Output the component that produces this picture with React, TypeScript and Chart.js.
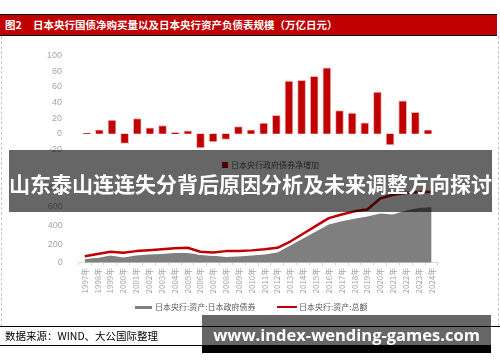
import React, { useEffect, useRef } from "react";
import { Chart, registerables } from "chart.js";

Chart.register(...registerables);

const years = [
  "1997年", "1998年", "1999年", "2000年", "2001年", "2002年", "2003年",
  "2004年", "2005年", "2006年", "2007年", "2008年", "2009年", "2010年",
  "2011年", "2012年", "2013年", "2014年", "2015年", "2016年", "2017年",
  "2018年", "2019年", "2020年", "2021年", "2022年", "2023年", "2024年",
];

// 日本央行政府债券净增加（万亿日元）
const netPurchase = [
  0.5, 5, 17.5, -12.5, 19.5, 7.5, 10.5, 1.5, 3.5, -18.5, -10.5, -7.5, 9, 5,
  13.5, 23.5, 67.5, 68.5, 73.5, 84.5, 29.5, 26.5, 14, 53.5, -14.5, 42, 27.5, 5,
];

// 日本央行:资产:日本政府债券
const jgbHoldings = [
  44, 50, 77, 57, 77, 87, 94, 104, 104, 84, 74, 60, 67, 77, 87, 110, 184, 260,
  334, 410, 444, 470, 494, 527, 517, 560, 587, 594,
];

// 日本央行:资产:总额
const totalAssets = [
  70, 94, 117, 107, 124, 134, 144, 154, 160, 117, 110, 124, 124, 132, 144, 160,
  227, 310, 394, 477, 517, 550, 570, 687, 727, 747, 757, 757,
];

const topYTicks = [-20, 0, 20, 40, 60, 80, 100];
const bottomYTicks = [0, 100, 200, 300, 400, 500, 600, 700, 800];

const titleFig = "图2";
const titleText = "日本央行国债净购买量以及日本央行资产负债表规模（万亿日元）";
const topLegend = "日本央行政府债券净增加";
const legendJgb = "日本央行:资产:日本政府债券";
const legendTotal = "日本央行:资产:总额";
const sourceText = "数据来源：WIND、大公国际整理";
const bannerText = "山东泰山连连失分背后原因分析及未来调整方向探讨";
const footerText = "www.index-wending-games.com";

const RED = "#C00000";
const GRAY = "#7f7f7f";
const TICK = "#a6a6a6";
const CJK = '"Noto Sans CJK SC", sans-serif';

export default function App() {
  const topRef = useRef<HTMLCanvasElement>(null);
  const botRef = useRef<HTMLCanvasElement>(null);

  useEffect(() => {
    const c1 = new Chart(topRef.current!, {
      type: "bar",
      data: {
        labels: years,
        datasets: [
          {
            label: topLegend,
            data: netPurchase,
            backgroundColor: RED,
            borderColor: "#f3b5b5",
            borderWidth: 1,
            barThickness: 8,
          },
        ],
      },
      options: {
        responsive: false,
        animation: false,
        layout: { padding: { top: 10, bottom: 7, left: 0, right: 65.7 } },
        plugins: { legend: { display: false }, tooltip: { enabled: false } },
        scales: {
          x: { display: false, offset: true },
          y: {
            min: topYTicks[0],
            max: topYTicks[topYTicks.length - 1],
            ticks: {
              stepSize: topYTicks[1] - topYTicks[0],
              padding: 10.4,
              color: TICK,
              font: { size: 9, family: "Liberation Sans" },
            },
            grid: { display: false },
            border: { display: false },
            afterFit: (s: any) => {
              s.width = 80.4;
            },
          },
        },
      },
    });

    const c2 = new Chart(botRef.current!, {
      type: "line",
      data: {
        labels: years,
        datasets: [
          {
            label: legendTotal,
            data: totalAssets,
            borderColor: RED,
            borderWidth: 2.5,
            pointRadius: 0,
            fill: false,
            order: 0,
            borderJoinStyle: "round",
          },
          {
            label: "outline",
            data: totalAssets,
            borderColor: "#ffffff",
            borderWidth: 6.5,
            pointRadius: 0,
            fill: false,
            order: 1,
            borderJoinStyle: "round",
          },
          {
            label: legendJgb,
            data: jgbHoldings,
            borderColor: GRAY,
            borderWidth: 0,
            backgroundColor: GRAY,
            fill: "origin",
            pointRadius: 0,
            order: 2,
          },
        ],
      },
      options: {
        responsive: false,
        animation: false,
        layout: { padding: { top: 8.3, bottom: 0, left: 0, right: 62 } },
        plugins: { legend: { display: false }, tooltip: { enabled: false } },
        scales: {
          x: {
            offset: true,
            grid: {
              offset: true,
              drawOnChartArea: false,
              tickLength: 3,
              color: "#d9d9d9",
            },
            border: { color: "#d9d9d9" },
            ticks: {
              minRotation: 90,
              maxRotation: 90,
              autoSkip: false,
              padding: 2,
              color: TICK,
              font: { size: 8, family: CJK },
            },
            afterFit: (s: any) => {
              s.height = 42.3;
            },
          },
          y: {
            min: bottomYTicks[0],
            max: bottomYTicks[bottomYTicks.length - 1],
            ticks: {
              stepSize: bottomYTicks[1] - bottomYTicks[0],
              padding: 7.6,
              color: TICK,
              font: { size: 9, family: "Liberation Sans" },
            },
            grid: { display: false },
            border: { display: false },
            afterFit: (s: any) => {
              s.width = 78.3;
            },
          },
        },
      },
    });

    return () => {
      c1.destroy();
      c2.destroy();
    };
  }, []);

  const abs = (o: React.CSSProperties): React.CSSProperties => ({
    position: "absolute",
    ...o,
  });

  return (
    <div
      style={{
        position: "absolute",
        left: 0,
        top: 0,
        width: 500,
        height: 362,
        background: "#fff",
        overflow: "hidden",
        fontFamily: CJK,
      }}
    >
      {/* dotted frame */}
      <div
        style={abs({
          left: 1,
          top: 36,
          width: 496,
          height: 290,
          borderLeft: "1px dashed #c8c8c8",
          borderRight: "1px dashed #c8c8c8",
        })}
      />
      {/* title band */}
      <div
        style={abs({
          left: 0,
          top: 14,
          width: 497,
          height: 22,
          boxSizing: "border-box",
          background: RED,
          borderTop: "1.5px solid #000",
          borderBottom: "1.5px solid #000",
        })}
      />
      <div
        style={abs({
          left: 5,
          top: 18,
          height: 14,
          lineHeight: "14px",
          fontSize: 10.5,
          fontWeight: 700,
          color: "#fff",
          whiteSpace: "nowrap",
        })}
      >
        {titleFig}
      </div>
      <div
        style={abs({
          left: 33,
          top: 18,
          height: 14,
          lineHeight: "14px",
          fontSize: 10.5,
          fontWeight: 700,
          color: "#fff",
          whiteSpace: "nowrap",
        })}
      >
        {titleText}
      </div>

      <canvas
        ref={topRef}
        width={500}
        height={125}
        style={abs({ left: 0, top: 40, width: 500, height: 125 })}
      />
      {/* top legend */}
      <div style={abs({ left: 222, top: 162, width: 6, height: 6, background: RED })} />
      <div
        style={abs({
          left: 231,
          top: 159,
          height: 12,
          lineHeight: "12px",
          fontSize: 8,
          color: "#595959",
          whiteSpace: "nowrap",
        })}
      >
        {topLegend}
      </div>

      <canvas
        ref={botRef}
        width={500}
        height={130}
        style={abs({ left: 0, top: 175, width: 500, height: 130 })}
      />
      {/* bottom legend */}
      <div style={abs({ left: 135, top: 305.5, width: 17, height: 3, background: GRAY })} />
      <div
        style={abs({
          left: 155,
          top: 301,
          height: 12,
          lineHeight: "12px",
          fontSize: 8,
          color: "#595959",
          whiteSpace: "nowrap",
        })}
      >
        {legendJgb}
      </div>
      <div style={abs({ left: 277, top: 306, width: 20, height: 2, background: RED })} />
      <div
        style={abs({
          left: 299,
          top: 301,
          height: 12,
          lineHeight: "12px",
          fontSize: 8,
          color: "#595959",
          whiteSpace: "nowrap",
        })}
      >
        {legendTotal}
      </div>

      {/* source lines */}
      <div style={abs({ left: 0, top: 326, width: 500, height: 1, background: "#000" })} />
      <div style={abs({ left: 0, top: 345, width: 202, height: 1, background: "#000" })} />
      <div
        style={abs({
          left: 5,
          top: 328,
          height: 16,
          lineHeight: "16px",
          fontSize: 10.5,
          color: "#000",
          whiteSpace: "nowrap",
        })}
      >
        {sourceText}
      </div>

      {/* overlay banner */}
      <div
        style={abs({
          left: 9,
          top: 150,
          width: 483,
          height: 62,
          background: "rgba(0,0,0,0.6)",
        })}
      />
      <div
        style={abs({
          left: 9,
          top: 168,
          width: 483,
          height: 30,
          lineHeight: "30px",
          textAlign: "center",
          fontSize: 21,
          fontWeight: 700,
          color: "#fff",
          whiteSpace: "nowrap",
        })}
      >
        {bannerText}
      </div>

      {/* footer banner */}
      <div
        style={abs({
          left: 202,
          top: 315,
          width: 289,
          height: 30,
          background: "rgba(0,0,0,0.6)",
        })}
      />
      <div style={abs({ left: 202, top: 345, width: 289, height: 8, background: "#000" })} />
      <div
        style={abs({
          left: 202,
          top: 322,
          width: 289,
          height: 26,
          lineHeight: "26px",
          textAlign: "center",
          fontSize: 16.5,
          fontWeight: 700,
          fontFamily: '"Open Sans", sans-serif',
          color: "#fff",
          whiteSpace: "nowrap",
        })}
      >
        {footerText}
      </div>
    </div>
  );
}
